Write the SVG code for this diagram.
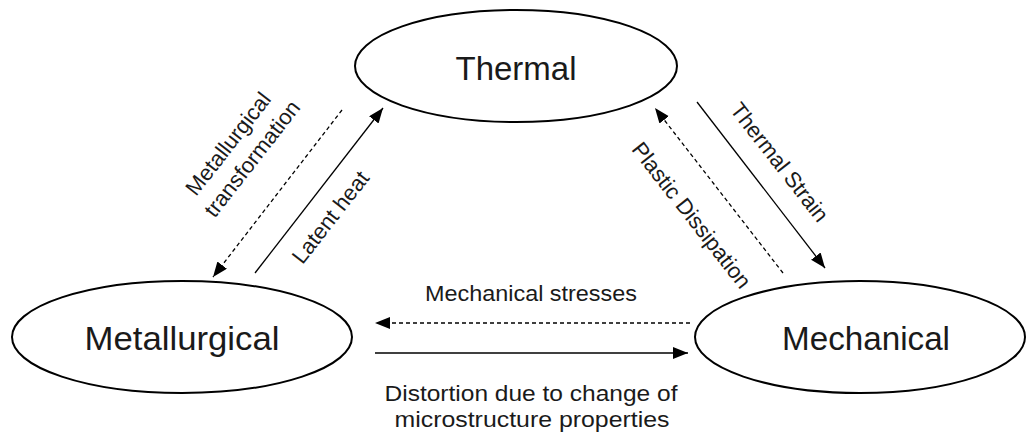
<svg xmlns="http://www.w3.org/2000/svg" width="1026" height="439" viewBox="0 0 1026 439">
  <defs>
    <marker id="arrow" markerUnits="userSpaceOnUse" markerWidth="16" markerHeight="13" refX="15" refY="6" orient="auto">
      <path d="M0,0 L15,6 L0,12 z" fill="#000"/>
    </marker>
    <style>
      .node ellipse { fill: #fff; stroke: #000; stroke-width: 2; }
      .node text { font-family: "Liberation Sans", Arial, sans-serif; font-size: 33px; fill: #1a1a1a; text-anchor: middle; }
      .link { fill: none; stroke: #000; stroke-width: 1.3; marker-end: url(#arrow); }
      .dashed { stroke-dasharray: 4 3; }
      .label { font-family: "Liberation Sans", Arial, sans-serif; font-size: 22px; fill: #1a1a1a; text-anchor: middle; }
    </style>
  </defs>
  <rect width="1026" height="439" fill="#fff"/>

  <!-- Nodes -->
  <g id="thermal" class="node">
    <ellipse cx="516" cy="66" rx="161" ry="56"/>
    <text x="516" y="80">Thermal</text>
  </g>
  <g id="metallurgical" class="node">
    <ellipse cx="182" cy="337" rx="170" ry="56"/>
    <text x="182" y="350" textLength="195" lengthAdjust="spacingAndGlyphs">Metallurgical</text>
  </g>
  <g id="mechanical" class="node">
    <ellipse cx="860" cy="337" rx="165" ry="56"/>
    <text x="866" y="350" textLength="168" lengthAdjust="spacingAndGlyphs">Mechanical</text>
  </g>

  <!-- Connectors -->
  <g id="connectors">
    <line class="link dashed" x1="342" y1="110" x2="213" y2="277"/>
    <line class="link" x1="255" y1="273" x2="383" y2="108"/>
    <line class="link" x1="697" y1="102" x2="825" y2="268"/>
    <line class="link dashed" x1="783" y1="273" x2="655" y2="108"/>
    <line class="link dashed" x1="690" y1="323" x2="375" y2="323"/>
    <line class="link" x1="375" y1="353" x2="688" y2="353"/>
  </g>

  <!-- Connector labels -->
  <g id="labels">
    <text class="label" transform="translate(236,146) rotate(-52)">
      <tspan x="0" y="0">Metallurgical</tspan>
      <tspan x="0" y="28">transformation</tspan>
    </text>
    <text class="label" transform="translate(330,217) rotate(-52)" y="8">Latent heat</text>
    <text class="label" transform="translate(780,162) rotate(52)" y="8">Thermal Strain</text>
    <text class="label" transform="translate(692,215) rotate(52)" y="8">Plastic Dissipation</text>
    <text class="label" x="531" y="301" textLength="212" lengthAdjust="spacingAndGlyphs">Mechanical stresses</text>
    <text class="label" x="531" y="401" textLength="293" lengthAdjust="spacingAndGlyphs">Distortion due to change of</text>
    <text class="label" x="532" y="427" textLength="275" lengthAdjust="spacingAndGlyphs">microstructure properties</text>
  </g>
</svg>
